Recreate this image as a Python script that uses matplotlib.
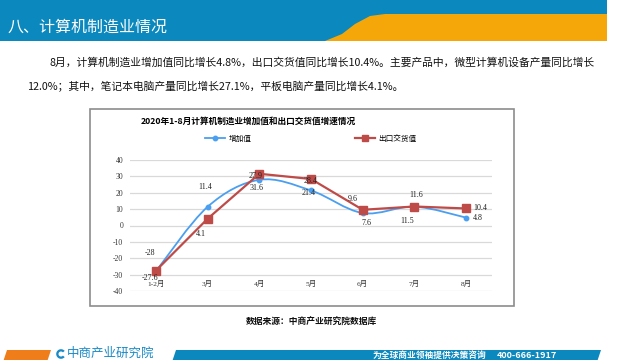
import matplotlib
matplotlib.use("Agg")
import matplotlib.pyplot as plt
from matplotlib.path import Path
from matplotlib.patches import PathPatch, Polygon, Rectangle, Wedge
from matplotlib.lines import Line2D

# ---------------- data ----------------
categories = ["1-2月", "3月", "4月", "5月", "6月", "7月", "8月"]
value_added = [-28, 11.4, 27.9, 21.4, 7.6, 11.5, 4.8]
export_value = [-27.6, 4.1, 31.6, 28.4, 9.6, 11.6, 10.4]
yticks = [40, 30, 20, 10, 0, -10, -20, -30, -40]
series_names = ["增加值", "出口交货值"]
title_text = "八、计算机制造业情况"
para_line1 = "8月，计算机制造业增加值同比增长4.8%，出口交货值同比增长10.4%。主要产品中，微型计算机设备产量同比增长"
para_line2 = "12.0%；其中，笔记本电脑产量同比增长27.1%，平板电脑产量同比增长4.1%。"
chart_title = "2020年1-8月计算机制造业增加值和出口交货值增速情况"
source_text = "数据来源：中商产业研究院数据库"
footer_logo = "中商产业研究院"
footer_slogan = "为全球商业领袖提供决策咨询"
footer_phone = "400-666-1917"

CJK = ["Noto Sans CJK SC", "DejaVu Sans"]
SERIF = ["Liberation Serif", "Noto Sans CJK SC"]
BLUE_BAND = "#0b88bd"
ORANGE = "#f5a70a"
LINE_BLUE = "#4a9ff0"
LINE_RED = "#be4b48"

fig = plt.figure(figsize=(6.4, 3.6), dpi=100)
fig.patch.set_facecolor("white")

# ---------------- slide decoration (pixel coords) ----------------
deco = fig.add_axes([0, 0, 1, 1])
deco.set_xlim(0, 640)
deco.set_ylim(360, 0)
deco.axis("off")

deco.add_patch(Rectangle((0, 0), 607, 41, color=BLUE_BAND, lw=0))
orange_verts = [(607, 14), (385, 14), (370, 16), (355, 24), (342, 34), (325, 41), (607, 41)]
deco.add_patch(Polygon(orange_verts, closed=True, color=ORANGE, lw=0))
deco.text(8, 27, title_text, color="white", fontsize=11.5, family=CJK,
          va="center", ha="left")

deco.text(50, 62, para_line1, fontsize=7.75, family=CJK, va="center", ha="left", color="#111111")
deco.text(27, 86, para_line2, fontsize=7.75, family=CJK, va="center", ha="left", color="#111111")

# chart frame
deco.add_patch(Rectangle((90, 109), 424, 197, fill=False, edgecolor="#8c8c8c", lw=1.2))
deco.text(141, 121, chart_title, fontsize=6.25, family=CJK, weight="bold",
          va="center", ha="left", color="black")

deco.text(311, 322, source_text, fontsize=6.3, family=CJK, weight="bold",
          va="center", ha="center", color="#111111")

# footer
deco.add_patch(Polygon([(7, 350), (51, 350), (47, 362), (3, 362)], closed=True,
                       color="#ef7d1a", lw=0))
deco.add_patch(Polygon([(176, 350), (601, 350), (597, 362), (172, 362)], closed=True,
                       color=BLUE_BAND, lw=0))
deco.add_patch(Wedge((61, 354), 4.8, 40, 320, width=2.3, color="#1a8ac6", lw=0))
deco.text(67, 353.5, footer_logo, fontsize=9.0, family=CJK, color="#1a8ac6",
          va="center", ha="left")
deco.text(373, 355, footer_slogan, fontsize=6.3, family=CJK, color="white",
          weight="bold", va="center", ha="left")
deco.text(497, 355, footer_phone, fontsize=6.5, family=CJK, color="white",
          weight="bold", va="center", ha="left")

# ---------------- chart ----------------
ax = fig.add_axes([130 / 640, 69 / 360, 362 / 640, 131 / 360])
ax.set_facecolor("none")
x = list(range(len(categories)))
ax.set_xlim(-0.5, len(categories) - 0.5)
ax.set_ylim(-40, 40)
ax.set_yticks(yticks)
ax.set_yticklabels([str(v) for v in yticks], family=SERIF, fontsize=5.5, color="#333333")
ax.tick_params(axis="y", length=0, pad=5)
ax.set_xticks([])
ax.grid(axis="y", color="#d9d9d9", lw=0.9)
ax.set_axisbelow(True)
for s in ax.spines.values():
    s.set_visible(False)

# category labels sit just under the -30 gridline
for xi, c in zip(x, categories):
    ax.text(xi, -35.7, c, ha="center", va="center", fontsize=5.4, family=SERIF, color="#333333")

# smoothed blue series (Excel-style Catmull-Rom Bezier)
pts = list(zip(x, value_added))
verts = [pts[0]]
codes = [Path.MOVETO]
n = len(pts)
for i in range(n - 1):
    p0 = pts[i - 1] if i > 0 else pts[i]
    p1 = pts[i]
    p2 = pts[i + 1]
    p3 = pts[i + 2] if i + 2 < n else pts[i + 1]
    c1 = (p1[0] + (p2[0] - p0[0]) / 6, p1[1] + (p2[1] - p0[1]) / 6)
    c2 = (p2[0] - (p3[0] - p1[0]) / 6, p2[1] - (p3[1] - p1[1]) / 6)
    verts += [c1, c2, p2]
    codes += [Path.CURVE4] * 3
ax.add_patch(PathPatch(Path(verts, codes), fill=False, edgecolor=LINE_BLUE, lw=1.3, zorder=3))
ax.plot(x, value_added, ls="none", marker="o", ms=3.2, color=LINE_BLUE, zorder=4)

ax.plot(x, export_value, color=LINE_RED, lw=1.6, marker="s", ms=5.2, zorder=5)

# data labels (offsets in points)
blue_off = [(-4, 13), (-2, 14), (-3, 3), (-2, -2), (3, -7), (-5, -10), (5, 0)]
red_off = [(-4, -5), (-5, -11), (-2, -10), (0, -1.5), (-7, 8), (1, 8), (5, 0)]
for i, (v, o) in enumerate(zip(value_added, blue_off)):
    ax.annotate(f"{v:g}", (x[i], v), xytext=o, textcoords="offset points",
                ha="left" if i == n - 1 else "center", va="center",
                fontsize=5.8, family=SERIF, color="#222222", zorder=6)
for i, (v, o) in enumerate(zip(export_value, red_off)):
    ax.annotate(f"{v:g}", (x[i], v), xytext=o, textcoords="offset points",
                ha="left" if i == n - 1 else "center", va="center",
                fontsize=5.8, family=SERIF, color="#222222", zorder=6)

handles = [Line2D([], [], color=LINE_BLUE, lw=1.3, marker="o", ms=3.2),
           Line2D([], [], color=LINE_RED, lw=1.6, marker="s", ms=4.5)]
fig.legend(handles, series_names, loc="center", bbox_to_anchor=(311 / 640, 1 - 139 / 360),
           ncol=2, frameon=False, prop={"family": CJK, "size": 5.5},
           handlelength=2.6, columnspacing=13.5, handletextpad=0.5)

fig.savefig("out.png", dpi=100, facecolor="white")
